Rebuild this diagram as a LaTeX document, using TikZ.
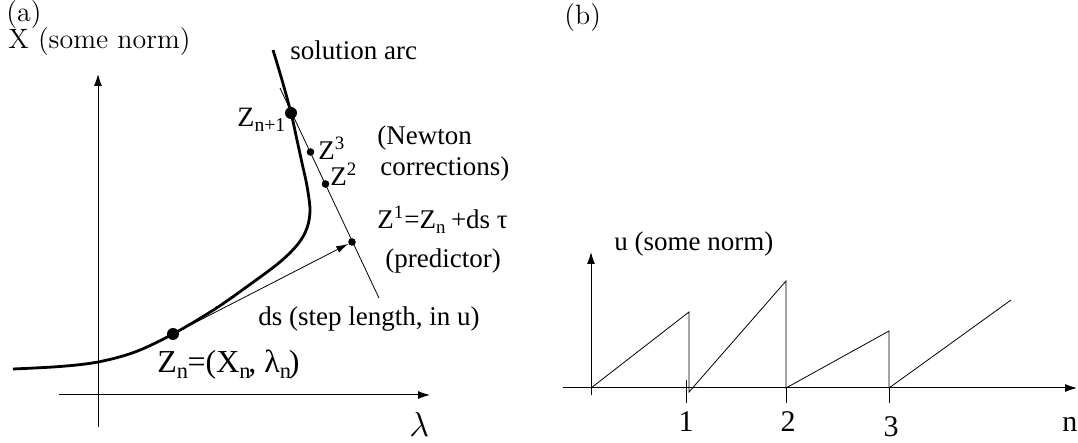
\documentclass[tikz,border=0pt]{standalone}
\usepackage{fontspec}
\setmainfont{Liberation Serif}
\newfontfamily\lmfont{Latin Modern Roman}
\usetikzlibrary{arrows.meta}
\begin{document}
\begin{tikzpicture}[x=0.5pt,y=-0.5pt,
  axis/.style={line width=0.5pt,-{Latex[length=6pt,width=4pt]}},
  thinline/.style={line width=0.4pt},
  arc/.style={line width=1.4pt},
  bigdot/.style={circle,fill,inner sep=0pt,minimum size=6pt},
  smalldot/.style={circle,fill,inner sep=0pt,minimum size=3.8pt},
  lbl/.style={inner sep=0pt,anchor=base west,font=\fontsize{13.5}{16}\selectfont},
  biglbl/.style={inner sep=0pt,anchor=base west,font=\fontsize{16}{18}\selectfont},
  cmlbl/.style={inner sep=0pt,anchor=base west,font=\lmfont\fontsize{14}{16}\selectfont},
  ticklbl/.style={inner sep=0pt,anchor=base,font=\fontsize{15}{18}\selectfont}]
\useasboundingbox (0,0) rectangle (1078,443);

% ---------- panel (a) ----------
\node[cmlbl] (pa) at (6,22) {(a)};
\node[cmlbl] (xlab) at (8,49) {X (some norm)};
\coordinate (yb) at (98,427);
\coordinate (yt) at (98,74);
\coordinate (xl) at (59,395);
\coordinate (xr) at (430,395);
\draw[axis] (yb) -- (yt);
\draw[axis] (xl) -- (xr);
\node[inner sep=0pt,anchor=base west,font=\fontsize{16}{18}\selectfont] (lam) at (409,437) {$\lambda$};

% solution arc
\draw[arc] plot[smooth,tension=0.55] coordinates {(13,369) (60,366.5) (98,362) (135,352) (173,334) (215,309) (252,283) (280,262) (298,244) (307,228) (310,210) (307,186) (302,163) (297,140) (291,113) (282,80) (273,50)};

% Newton line
\coordinate (nt) at (280,88);
\coordinate (nb) at (379,298);
\draw[thinline] (nt) -- (nb);

\node[bigdot] (zn) at (173,334) {};
\node[bigdot] (zn1) at (291,113) {};
\node[smalldot] (z3) at (310.5,152) {};
\node[smalldot] (z2) at (325.5,184) {};
\node[smalldot] (z1) at (352,242) {};

\draw[thinline,-{Latex[length=6pt,width=3.5pt]}] (zn) -- (z1);

\node[lbl] (sol) at (290,60) {solution arc};
\node[lbl,font=\fontsize{14}{16}\selectfont] (lzn1) at (237,127) {Z\textsubscript{n+1}};
\node[lbl] (lz3) at (318,160) {Z\textsuperscript{3}};
\node[lbl] (lz2) at (330,186) {Z\textsuperscript{2}};
\node[lbl] (newt) at (377,145) {(Newton};
\node[lbl] (corr) at (380,176) {corrections)};
\node[lbl] (lz1) at (377,229) {Z\textsuperscript{1}=Z\textsubscript{n}\,+ds τ};
\node[lbl] (pred) at (385,268) {(predictor)};
\node[lbl] (ds) at (258,326) {ds (step length, in u)};
\node[biglbl] (lzn) at (157,373) {Z\textsubscript{n}\kern-0.05em=(X\textsubscript{n}\kern-0.1em, λ\textsubscript{n}\kern-0.1em)};

% ---------- panel (b) ----------
\node[cmlbl] (pb) at (564,25) {(b)};
\node[lbl] (ulab) at (614,251) {u (some norm)};
\coordinate (hl) at (563,388);
\coordinate (hr) at (1077,388);
\coordinate (vb) at (591,395);
\coordinate (vt) at (591,252);
\draw[axis] (hl) -- (hr);
\draw[axis] (vb) -- (vt);

\coordinate (t1a) at (686,380); \coordinate (t1b) at (686,403);
\coordinate (t2a) at (786,388); \coordinate (t2b) at (786,403);
\coordinate (t3a) at (889,388); \coordinate (t3b) at (889,403);
\draw[thinline] (t1a) -- (t1b);
\draw[thinline] (t2a) -- (t2b);
\draw[thinline] (t3a) -- (t3b);

\coordinate (s0) at (591,388);
\coordinate (s1) at (689,312);
\coordinate (s2) at (689,392);
\coordinate (s3) at (786,281);
\coordinate (s4) at (786,388);
\coordinate (s5) at (889,331);
\coordinate (s6) at (889,388);
\coordinate (s7) at (1011,300);
\draw[thinline] (s0) -- (s1) -- (s2) -- (s3) -- (s4) -- (s5) -- (s6) -- (s7);

\node[ticklbl] (n1) at (686,432) {1};
\node[ticklbl] (n2) at (788,432) {2};
\node[ticklbl] (n3) at (891,437) {3};
\node[inner sep=0pt,anchor=base west,font=\fontsize{15}{18}\selectfont] (nlab) at (1062,432) {n};
\end{tikzpicture}
\end{document}
